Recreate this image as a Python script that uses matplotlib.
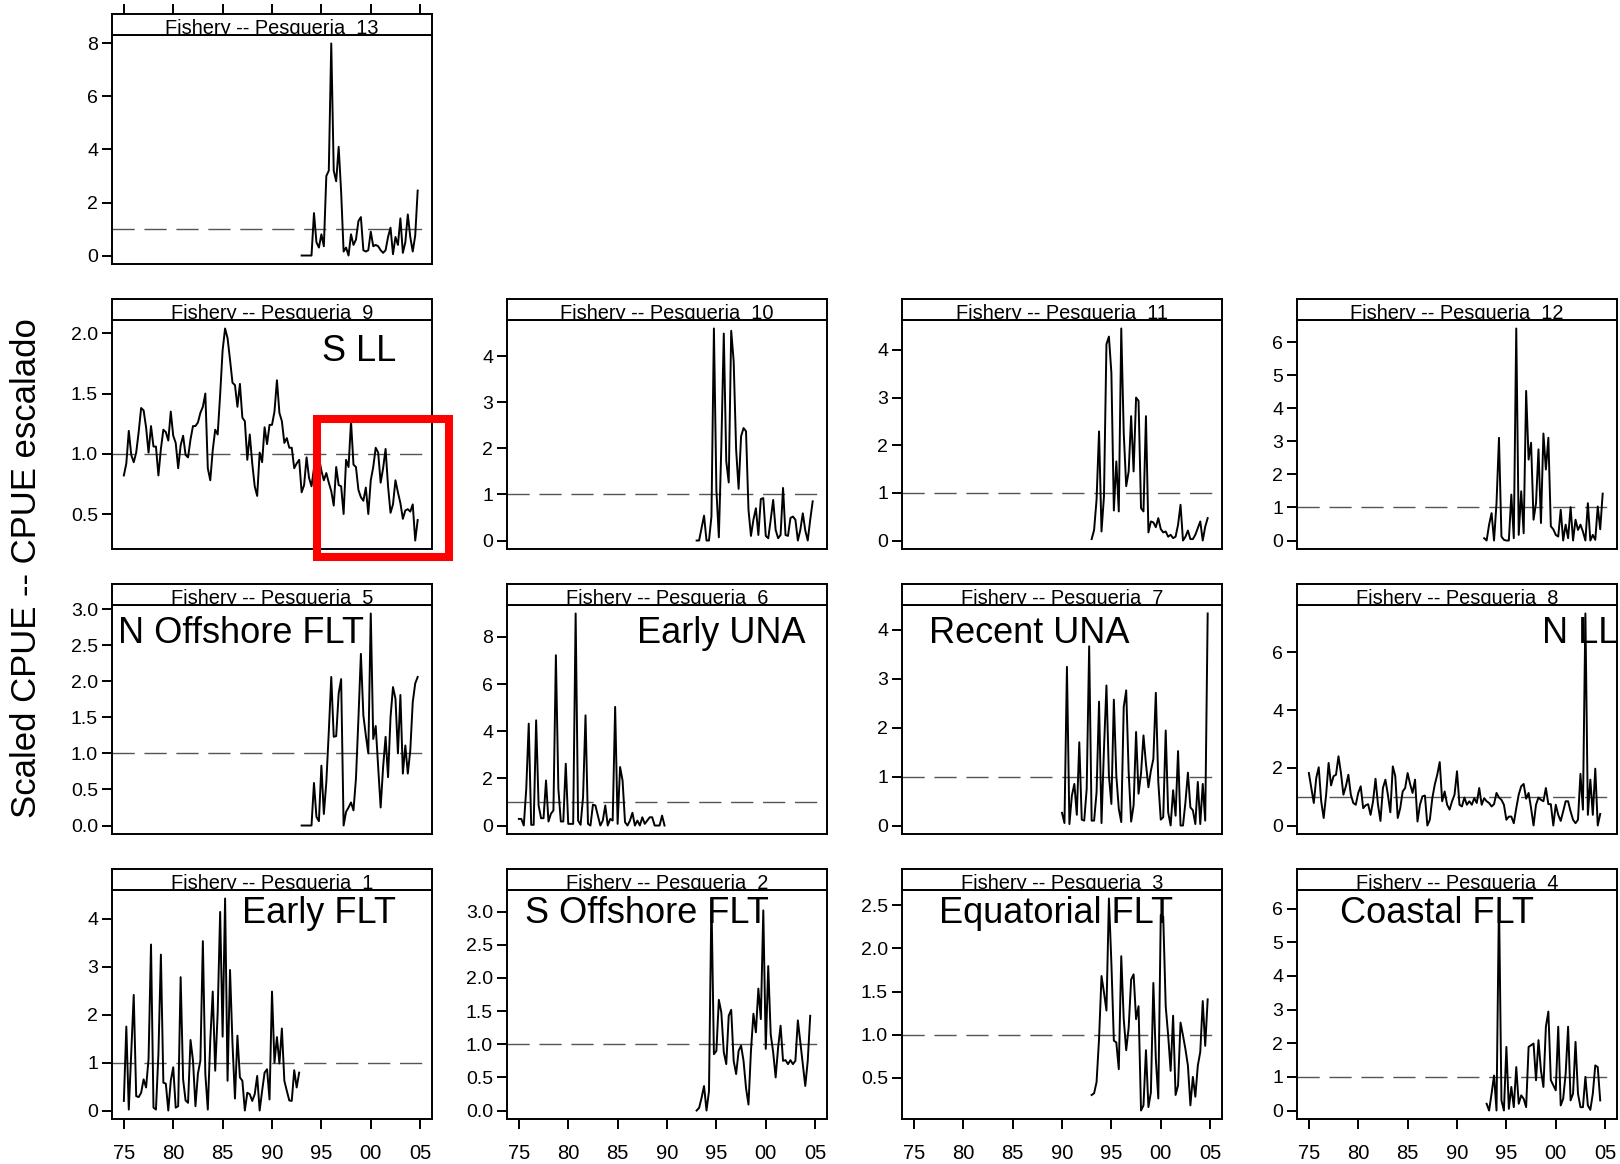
import matplotlib
matplotlib.use("Agg")
import matplotlib.pyplot as plt
from matplotlib.patches import Rectangle
from matplotlib.ticker import MultipleLocator, FormatStrFormatter
import numpy as np

plt.rcParams['font.family'] = ['Liberation Sans', 'DejaVu Sans']

# quarterly scaled CPUE per fishery; first value sits at the start year
start_f1 = 1975.0
cpue_f1 = [0.20, 1.75, 0.02, 1.21, 2.41, 0.30, 0.28, 0.37, 0.65, 0.48, 1.07, 3.46, 0.06, 0.02, 1.18, 3.25,
           0.58, 0.56, 0.0, 0.62, 0.90, 0.06, 0.09, 2.78, 0.65, 0.21, 0.16, 1.47, 1.04, 0.09, 0.77, 1.04,
           3.53, 0.76, 0.02, 1.46, 2.48, 0.83, 2.04, 4.14, 1.54, 4.42, 0.62, 2.93, 1.39, 0.25, 1.56, 0.69,
           0.62, 0.0, 0.37, 0.34, 0.20, 0.34, 0.72, 0.0, 0.41, 0.79, 0.86, 0.23, 2.48, 1.0, 1.53, 0.98,
           1.71, 0.62, 0.41, 0.21, 0.20, 0.84, 0.48, 0.79]
start_f2 = 1993.0
cpue_f2 = [0.0, 0.04, 0.19, 0.37, 0.0, 0.29, 3.2, 0.85, 0.90, 1.67, 1.48, 0.88, 0.70, 1.43, 1.52, 0.75,
           0.55, 0.90, 0.98, 0.75, 0.34, 0.09, 0.90, 1.46, 1.18, 1.84, 1.38, 3.02, 0.93, 2.18, 1.15, 0.88,
           0.50, 0.95, 1.28, 0.75, 0.76, 0.70, 0.76, 0.70, 0.75, 1.36, 1.03, 0.70, 0.37, 0.75, 1.43]
start_f3 = 1993.0
cpue_f3 = [0.30, 0.32, 0.45, 0.95, 1.68, 1.49, 1.28, 2.58, 1.83, 0.93, 0.91, 0.60, 1.91, 1.18, 0.82, 1.08,
           1.64, 1.70, 1.18, 1.33, 0.12, 0.18, 0.82, 0.16, 0.33, 1.60, 0.72, 0.26, 2.39, 2.37, 1.33, 0.99,
           0.58, 1.22, 0.30, 0.41, 1.14, 0.99, 0.83, 0.64, 0.18, 0.51, 0.28, 0.64, 0.80, 1.39, 0.87, 1.41]
start_f4 = 1993.0
cpue_f4 = [0.20, 0.0, 0.50, 1.04, 0.0, 6.3, 0.30, 0.0, 1.89, 0.05, 0.70, 0.10, 1.29, 0.20, 0.45, 0.35,
           0.10, 1.89, 1.94, 1.99, 0.90, 2.09, 1.19, 0.70, 2.49, 2.94, 0.90, 0.75, 0.60, 2.49, 0.15, 0.35,
           1.09, 2.49, 0.30, 0.50, 2.04, 0.50, 0.10, 0.10, 1.0, 0.15, 0.02, 0.50, 1.34, 1.29, 0.30]
start_f5 = 1993.0
cpue_f5 = [0.0, 0.0, 0.0, 0.0, 0.0, 0.59, 0.12, 0.06, 0.83, 0.16, 0.60, 1.30, 2.06, 1.23, 1.24, 1.83,
           2.03, 0.0, 0.19, 0.25, 0.32, 0.21, 0.65, 1.48, 2.38, 1.53, 1.25, 1.0, 2.94, 1.20, 1.38, 0.81,
           0.25, 0.81, 1.23, 0.67, 1.50, 1.92, 1.76, 1.0, 1.81, 0.72, 1.11, 0.72, 1.04, 1.71, 1.97, 2.06]
start_f6 = 1975.0
cpue_f6 = [0.28, 0.28, 0.0, 1.56, 4.32, 0.03, 0.03, 4.46, 0.85, 0.31, 0.31, 1.91, 0.17, 0.50, 0.64, 7.22,
           1.56, 0.17, 0.17, 2.62, 0.07, 0.07, 0.07, 8.99, 0.21, 0.03, 1.2, 4.67, 0.07, 0.0, 0.88, 0.85,
           0.42, 0.0, 0.21, 0.85, 0.0, 0.28, 0.21, 5.03, 0.07, 2.48, 1.91, 0.14, 0.0, 0.21, 0.54, 0.0,
           0.21, 0.0, 0.35, 0.07, 0.21, 0.35, 0.35, 0.0, 0.0, 0.0, 0.42, 0.0]
start_f7 = 1990.0
cpue_f7 = [0.26, 0.05, 3.24, 0.03, 0.61, 0.85, 0.22, 1.70, 0.12, 0.10, 0.75, 3.66, 0.10, 0.10, 0.68, 2.53,
           0.05, 1.57, 2.86, 1.02, 0.44, 2.57, 1.02, 0.34, 0.07, 2.42, 2.76, 1.09, 0.08, 0.41, 1.91, 0.65,
           1.06, 1.84, 1.26, 0.78, 1.12, 1.36, 2.71, 0.89, 0.12, 0.17, 1.94, 0.27, 0.0, 0.72, 0.20, 1.52,
           0.0, 0.0, 0.48, 1.08, 0.37, 0.31, 0.03, 0.89, 0.03, 0.85, 0.10, 4.33]
start_f8 = 1975.0
cpue_f8 = [1.82, 1.30, 0.78, 1.65, 2.02, 0.84, 0.26, 1.07, 2.17, 1.39, 1.71, 1.76, 2.40, 1.82, 1.07, 1.36,
           1.76, 1.07, 0.78, 0.72, 1.13, 1.36, 0.60, 0.70, 0.74, 0.37, 0.84, 1.62, 0.72, 0.16, 1.30, 1.59,
           1.07, 0.46, 2.05, 1.71, 0.26, 0.60, 1.18, 1.30, 1.82, 1.44, 1.13, 1.59, 0.14, 0.72, 1.01, 1.04,
           0.0, 0.20, 0.95, 1.42, 1.76, 2.20, 0.84, 1.18, 0.72, 0.55, 0.84, 1.07, 1.88, 0.72, 0.66, 0.97,
           0.72, 0.84, 0.72, 0.95, 0.78, 1.30, 0.72, 0.95, 0.84, 0.78, 0.66, 0.74, 1.13, 0.97, 0.89, 0.72,
           0.20, 0.31, 0.31, 0.08, 0.60, 1.07, 1.36, 1.44, 0.93, 1.13, 0.60, 0.0, 0.72, 0.97, 0.89, 0.84,
           1.30, 0.74, 0.74, 0.0, 0.72, 0.37, 0.16, 0.49, 0.84, 0.84, 0.49, 0.20, 0.08, 0.20, 1.79, 0.55,
           7.35, 0.37, 1.59, 0.37, 1.97, 0.0, 0.40]
start_f9 = 1975.0
cpue_f9 = [0.82, 0.92, 1.19, 0.99, 0.93, 1.01, 1.18, 1.38, 1.36, 1.22, 1.01, 1.23, 1.06, 1.06, 0.82, 1.04,
           1.20, 1.18, 1.11, 1.35, 1.15, 1.09, 0.88, 1.07, 1.15, 0.99, 0.97, 1.12, 1.23, 1.23, 1.26, 1.34,
           1.39, 1.50, 0.88, 0.78, 1.03, 1.20, 1.16, 1.49, 1.86, 2.04, 1.96, 1.78, 1.59, 1.57, 1.39, 1.58,
           1.30, 1.27, 0.95, 1.16, 0.92, 0.73, 0.65, 1.01, 0.93, 1.22, 1.08, 1.24, 1.24, 1.35, 1.61, 1.34,
           1.27, 1.09, 1.13, 1.05, 1.05, 0.88, 0.92, 0.95, 0.68, 0.74, 0.97, 0.80, 0.73, 0.88, 0.84, 0.97,
           0.86, 0.78, 0.84, 0.76, 0.69, 0.57, 0.89, 0.74, 0.73, 0.50, 0.95, 0.89, 1.27, 0.91, 0.89, 0.70,
           0.64, 0.61, 0.72, 0.50, 0.78, 0.89, 1.05, 1.01, 0.76, 0.88, 1.04, 0.73, 0.51, 0.58, 0.78, 0.68,
           0.59, 0.46, 0.53, 0.54, 0.52, 0.58, 0.28, 0.45]
start_f10 = 1993.0
cpue_f10 = [0.0, 0.0, 0.27, 0.54, 0.0, 0.0, 0.52, 4.6, 1.1, 0.07, 2.04, 4.49, 1.72, 1.26, 4.55, 3.89,
            1.97, 1.12, 2.26, 2.44, 2.37, 0.67, 0.10, 0.45, 0.70, 0.12, 0.90, 0.92, 0.10, 0.05, 0.45, 0.88,
            0.23, 0.05, 0.12, 1.14, 0.12, 0.10, 0.49, 0.52, 0.45, 0.0, 0.23, 0.59, 0.22, 0.0, 0.45, 0.85]
start_f11 = 1993.0
cpue_f11 = [0.03, 0.22, 0.86, 2.29, 0.19, 0.93, 4.12, 4.28, 3.52, 0.63, 1.66, 0.61, 4.45, 2.26, 1.14, 1.45,
            2.61, 1.45, 3.0, 2.93, 0.68, 0.61, 2.61, 0.17, 0.40, 0.38, 0.28, 0.47, 0.24, 0.17, 0.19, 0.08,
            0.12, 0.05, 0.08, 0.33, 0.75, 0.0, 0.08, 0.21, 0.03, 0.03, 0.12, 0.26, 0.40, 0.0, 0.29, 0.47]
start_f12 = 1992.75
cpue_f12 = [0.07, 0.0, 0.48, 0.83, 0.0, 1.13, 3.11, 0.12, 0.02, 0.0, 0.0, 1.39, 0.07, 6.42, 0.17, 1.49,
            0.22, 4.53, 2.45, 2.96, 0.63, 1.13, 2.76, 0.53, 3.24, 2.15, 3.11, 0.43, 0.34, 0.17, 0.12, 0.93,
            0.0, 0.48, 0.07, 1.01, 0.0, 0.63, 0.32, 0.48, 0.27, 0.0, 1.13, 0.0, 0.17, 0.02, 1.03, 0.34, 1.42]
start_f13 = 1993.0
cpue_f13 = [0.0, 0.0, 0.0, 0.0, 0.0, 1.6, 0.5, 0.3, 0.8, 0.35, 3.0, 3.2, 8.0, 3.2, 2.8, 4.1,
            2.4, 0.15, 0.3, 0.0, 0.8, 0.4, 0.6, 1.3, 1.45, 0.2, 0.15, 0.2, 0.9, 0.35, 0.4, 0.35,
            0.2, 0.1, 0.2, 0.7, 1.05, 0.05, 0.7, 0.4, 1.4, 0.1, 0.5, 1.55, 0.7, 0.15, 0.75, 2.45]

series = {1: (start_f1, cpue_f1), 2: (start_f2, cpue_f2), 3: (start_f3, cpue_f3), 4: (start_f4, cpue_f4),
          5: (start_f5, cpue_f5), 6: (start_f6, cpue_f6), 7: (start_f7, cpue_f7), 8: (start_f8, cpue_f8),
          9: (start_f9, cpue_f9), 10: (start_f10, cpue_f10), 11: (start_f11, cpue_f11),
          12: (start_f12, cpue_f12), 13: (start_f13, cpue_f13)}

fishery_names = {1: 'Early FLT', 2: 'S Offshore FLT', 3: 'Equatorial FLT', 4: 'Coastal FLT',
                 5: 'N Offshore FLT', 6: 'Early UNA', 7: 'Recent UNA', 8: 'N LL', 9: 'S LL'}
year_ticks = [1975, 1980, 1985, 1990, 1995, 2000, 2005]
year_labels = ['75', '80', '85', '90', '95', '00', '05']
ytick_step = {1: 1, 2: 0.5, 3: 0.5, 4: 1, 5: 0.5, 6: 2, 7: 1, 8: 2, 9: 0.5, 10: 1, 11: 1, 12: 1, 13: 2}

# layout (pixels)
grid = [[13], [9, 10, 11, 12], [5, 6, 7, 8], [1, 2, 3, 4]]
name_pos = {1: (0.405, 0.855), 2: (0.056, 0.855), 3: (0.115, 0.855), 4: (0.135, 0.855),
            5: (0.019, 0.834), 6: (0.406, 0.834), 7: (0.084, 0.834), 8: (0.766, 0.834), 9: (0.655, 0.82)}
W, H = 1620, 1164
x0, dx, pw = 112, 395, 320
y0, dy, ph, sh = 35, 285, 229, 21
xlim = (1975 - 1.2, 2005 + 1.2)

fig = plt.figure(figsize=(W / 100, H / 100), dpi=100)


def px_axes(left, top, w, h):
    return fig.add_axes([left / W, 1 - (top + h) / H, w / W, h / H])


for r, row in enumerate(grid):
    for c, f in enumerate(row):
        left = x0 + c * dx
        top = y0 + r * dy
        ax = px_axes(left, top, pw, ph)
        start, vals = series[f]
        vals = np.array(vals)
        t = start + 0.25 * np.arange(len(vals))
        ax.plot(t, vals, color='black', lw=1.4, zorder=3)
        ax.axhline(1.0, color='#555555', lw=1.0, dashes=(16, 7), zorder=2)
        ax.set_xlim(*xlim)
        lo, hi = vals.min(), vals.max()
        rng = hi - lo
        ax.set_ylim(lo - 0.04 * rng, hi + 0.04 * rng)
        step = ytick_step[f]
        ax.yaxis.set_major_locator(MultipleLocator(step))
        ax.yaxis.set_major_formatter(FormatStrFormatter('%.1f' if step < 1 else '%d'))
        ax.tick_params(axis='y', direction='out', length=7, width=1.4, labelsize=14, pad=3)
        if r == len(grid) - 1:
            ax.set_xticks(year_ticks)
            ax.set_xticklabels(year_labels)
            ax.tick_params(axis='x', direction='out', length=7, width=1.4, labelsize=14.5, pad=11)
        else:
            ax.set_xticks([])
        for s in ax.spines.values():
            s.set_linewidth(1.4)
        if f in fishery_names:
            nx, ny = name_pos[f]
            ax.text(nx, ny, fishery_names[f], transform=ax.transAxes, fontsize=26,
                    ha='left', va='baseline', clip_on=False, zorder=1)
        if f == 9:
            ax.add_patch(Rectangle((0.641, -0.035), 0.412, 0.603, transform=ax.transAxes,
                                   fill=False, edgecolor='red', lw=5.8, clip_on=False, zorder=10))

        # strip
        sax = px_axes(left, top - sh, pw, sh)
        sax.set_xlim(*xlim)
        sax.set_ylim(0, 1)
        sax.set_yticks([])
        if r == 0:
            sax.xaxis.tick_top()
            sax.set_xticks(year_ticks)
            sax.tick_params(axis='x', top=True, bottom=False, labeltop=False, labelbottom=False,
                            direction='out', length=7, width=1.4)
        else:
            sax.set_xticks([])
        for s in sax.spines.values():
            s.set_linewidth(1.4)
        sax.text(0.5, 0.03, 'Fishery -- Pesqueria  %d' % f, transform=sax.transAxes,
                 ha='center', va='baseline', fontsize=14.4, clip_on=True)

fig.text(0.0165, 0.512, 'Scaled CPUE -- CPUE escalado', rotation=90, ha='center', va='center',
         fontsize=25)

fig.savefig('out.png', dpi=100)
